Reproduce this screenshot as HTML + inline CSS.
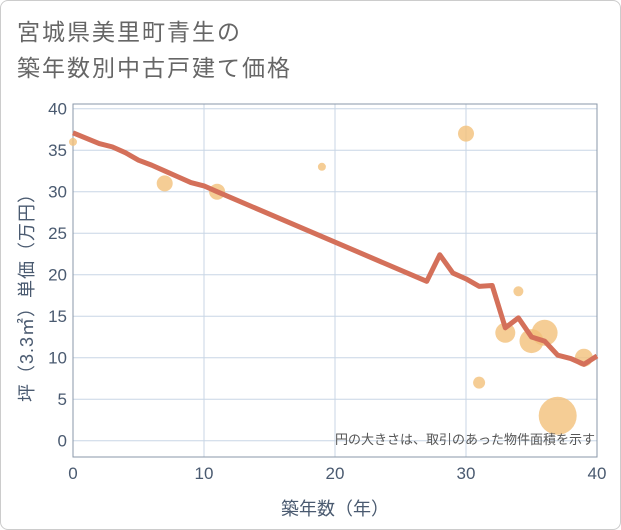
<!DOCTYPE html>
<html><head><meta charset="utf-8"><style>
body{margin:0;background:#fff;font-family:"Liberation Sans","Noto Sans CJK JP",sans-serif}
#wrap{position:relative;width:619px;height:528px;border:1px solid #ccc;border-radius:8px;overflow:hidden}
#title{position:absolute;left:16px;top:13px;font-size:23px;line-height:36px;color:#666;letter-spacing:2px}
svg{position:absolute;left:0;top:0}
</style></head><body>
<div id="wrap">
<div id="title">宮城県美里町青生の<br>築年数別中古戸建て価格</div>
<svg id="c" width="621" height="530"></svg>
</div>
<script>
const lineYears=[0,2,3,4,5,6,7,8,9,10,11,27,28,29,30,31,32,33,34,35,36,37,38,39,40];
const lineValues=[37.1,35.8,35.4,34.7,33.8,33.2,32.5,31.8,31.1,30.7,30,19.2,22.4,20.2,19.5,18.6,18.7,13.6,14.8,12.5,12,10.3,9.9,9.2,10.2];
const bubbleYears=[0,7,11,19,30,31,33,34,35,36,37,39];
const bubbleValues=[36,31,30,33,37,7,13,18,12,13,3,10];
const bubbleAreas=[16,64,64,16,64,36,100,25,144,169,361,81];
const xTicks=[0,10,20,30,40];
const yTicks=[0,5,10,15,20,25,30,35,40];
const NS='http://www.w3.org/2000/svg';
const svg=document.getElementById('c');
const L=72,R=596,T=103,B=456;
const x=v=>L+v*(R-L)/40;
const y=v=>439.7-v*8.3;
function mk(t,a){const e=document.createElementNS(NS,t);for(const k in a)e.setAttribute(k,a[k]);svg.appendChild(e);return e;}
xTicks.forEach(t=>{
 const g=mk('line',{x1:x(t),x2:x(t),y1:T,y2:B,stroke:'#c8d6e5','stroke-width':1});
 
 
 const l=mk('text',{x:x(t),y:478,'text-anchor':'middle','font-size':17,fill:'#4a5a70'});l.textContent=t;
 
 
});
yTicks.forEach(t=>{
 const g=mk('line',{x1:L,x2:R,y1:y(t),y2:y(t),stroke:'#c8d6e5','stroke-width':1});
 
 
 const l=mk('text',{x:66,y:y(t)+6,'text-anchor':'end','font-size':17,fill:'#4a5a70'});l.textContent=t;
 
 
});
const fr=mk('rect',{x:L,y:T,width:R-L,height:B-T,fill:'none',stroke:'#8a97a8','stroke-width':1});


bubbleYears.forEach((yr,i)=>{
 const c=mk('circle',{cx:x(yr),cy:y(bubbleValues[i]),r:Math.sqrt(bubbleAreas[i]),fill:'#f2c07a','fill-opacity':0.8});
 
 
});
const p=mk('polyline',{points:lineYears.map((yr,i)=>x(yr)+','+y(lineValues[i])).join(' '),fill:'none',stroke:'#d4705a','stroke-width':5,'stroke-linejoin':'round'});


const n=mk('text',{x:594,y:443,'text-anchor':'end','font-size':13,fill:'#555'});n.textContent='円の大きさは、取引のあった物件面積を示す';


const xt=mk('text',{x:334,y:514,'text-anchor':'middle','font-size':18,fill:'#4a5a70'});xt.textContent='築年数（年）';


const yt=mk('text',{x:0,y:0,'text-anchor':'middle','font-size':18,fill:'#4a5a70','letter-spacing':1,transform:'translate(32,292) rotate(-90)'});yt.textContent='坪（3.3㎡）単価（万円）';


</script>
</body></html>
